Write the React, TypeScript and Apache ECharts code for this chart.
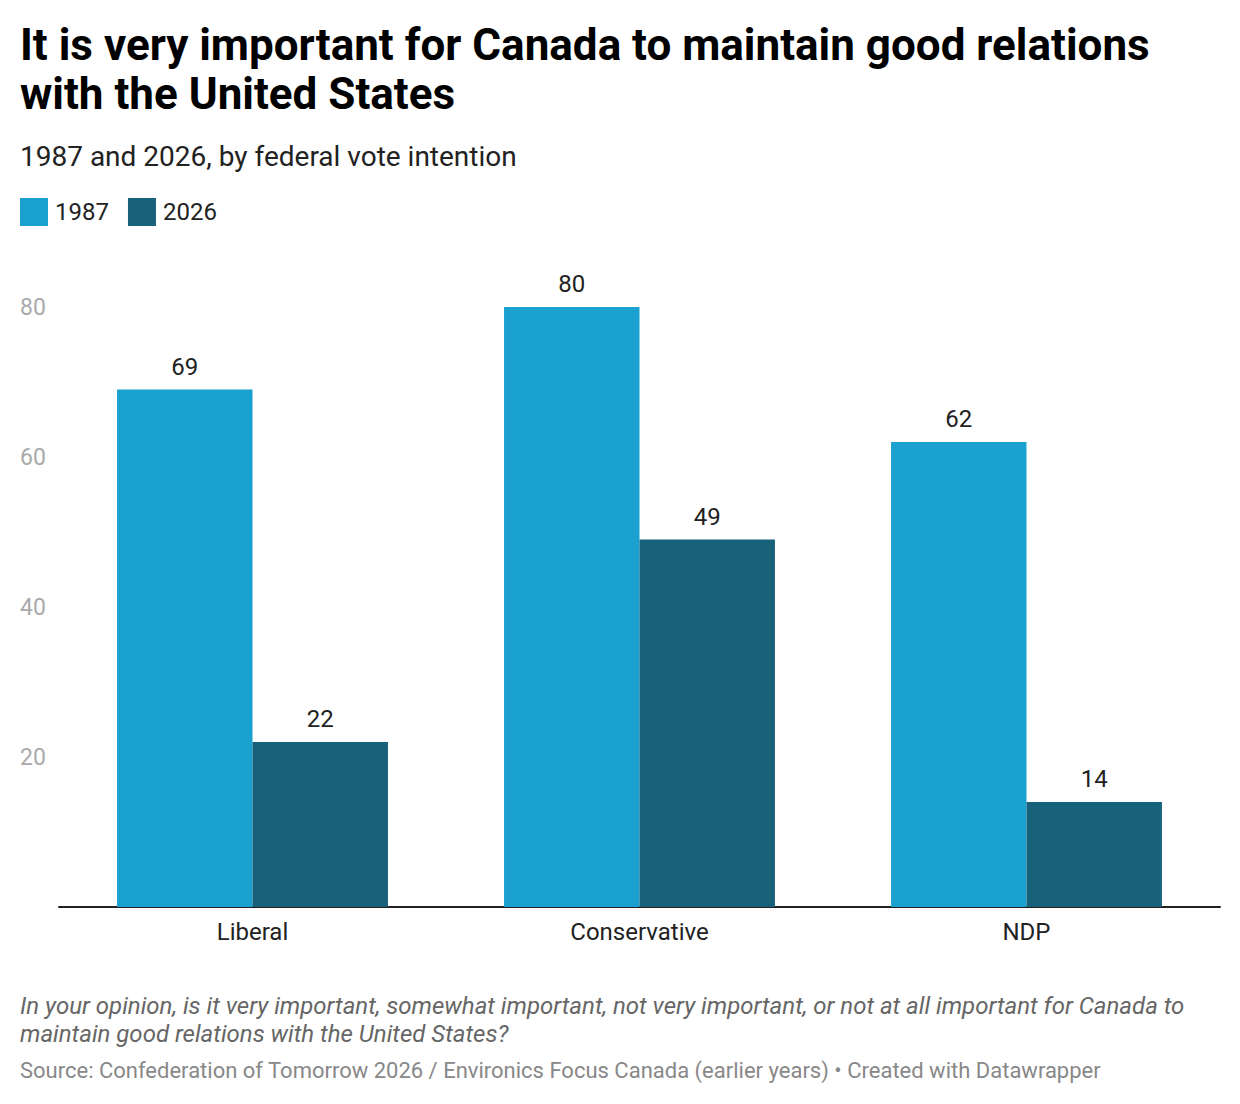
import * as echarts from "echarts"
import { useEffect, useRef } from "react"

const categories = ["Liberal", "Conservative", "NDP"]
const values1987 = [69, 80, 62]
const values2026 = [22, 49, 14]
const yTicks = [0, 20, 40, 60, 80]

const COLOR_1987 = "#1aa1cf"
const COLOR_2026 = "#17617b"
const FONT = "Roboto, 'Noto Sans', sans-serif"

export default function App() {
  const chartRef = useRef<HTMLDivElement>(null)

  useEffect(() => {
    if (!chartRef.current) return
    const chart = echarts.init(chartRef.current, undefined, { renderer: "svg" })

    const valueLabel = {
      show: true,
      position: "top" as const,
      distance: 11,
      fontFamily: FONT,
      fontSize: 24,
      color: "#222",
    }

    const option: echarts.EChartsOption = {
      animation: false,
      textStyle: { fontFamily: FONT },
      title: [
        {
          text: "It is very important for Canada to maintain good relations\nwith the United States",
          left: 20,
          top: 20,
          padding: 0,
          textStyle: {
            fontFamily: FONT,
            fontSize: 44,
            fontWeight: "bold",
            color: "#000",
            lineHeight: 49,
          },
        },
        {
          text: "1987 and 2026, by federal vote intention",
          left: 20,
          top: 142,
          padding: 0,
          textStyle: {
            fontFamily: FONT,
            fontSize: 28,
            fontWeight: "normal",
            color: "#222",
          },
        },
      ],
      legend: {
        left: 20,
        top: 198,
        padding: 0,
        icon: "rect",
        itemWidth: 28,
        itemHeight: 28,
        itemGap: 19,
        textStyle: { fontFamily: FONT, fontSize: 24, color: "#222", padding: [0, 0, 0, 2] },
        data: ["1987", "2026"],
      },
      grid: { left: 59, right: 20, top: 307, bottom: 197 },
      xAxis: {
        type: "category",
        data: categories,
        axisLine: { show: true, lineStyle: { color: "#222", width: 2 } },
        axisTick: { show: false },
        axisLabel: { fontFamily: FONT, fontSize: 24, color: "#222", margin: 13 },
      },
      yAxis: {
        type: "value",
        min: yTicks[0],
        max: yTicks[yTicks.length - 1],
        interval: 20,
        splitLine: { show: false },
        axisLine: { show: false },
        axisTick: { show: false },
        axisLabel: {
          fontFamily: FONT,
          fontSize: 23,
          color: "#aaa",
          align: "left",
          margin: 39,
          formatter: (v: number) => (v === 0 ? "" : String(v)),
        },
      },
      series: [
        {
          name: "1987",
          type: "bar",
          data: values1987,
          barGap: "0%",
          barCategoryGap: "30%",
          itemStyle: { color: COLOR_1987 },
          label: valueLabel,
        },
        {
          name: "2026",
          type: "bar",
          data: values2026,
          barGap: "0%",
          barCategoryGap: "30%",
          itemStyle: { color: COLOR_2026 },
          label: valueLabel,
        },
      ],
      graphic: [
        {
          type: "text",
          left: 20,
          top: 992,
          style: {
            text:
              "In your opinion, is it very important, somewhat important, not very important, or not at all important for Canada to\nmaintain good relations with the United States?",
            font: `italic 24px ${FONT}`,
            fill: "#666",
            lineHeight: 28,
          },
        },
        {
          type: "text",
          left: 20,
          top: 1059,
          style: {
            text: "Source: Confederation of Tomorrow 2026 / Environics Focus Canada (earlier years) • Created with Datawrapper",
            font: `22px ${FONT}`,
            fill: "#888",
          },
        },
      ],
    }

    chart.setOption(option)
    return () => chart.dispose()
  }, [])

  return (
    <div
      ref={chartRef}
      style={{ position: "absolute", left: 0, top: 0, width: 1240, height: 1104, background: "#fff" }}
    />
  )
}
